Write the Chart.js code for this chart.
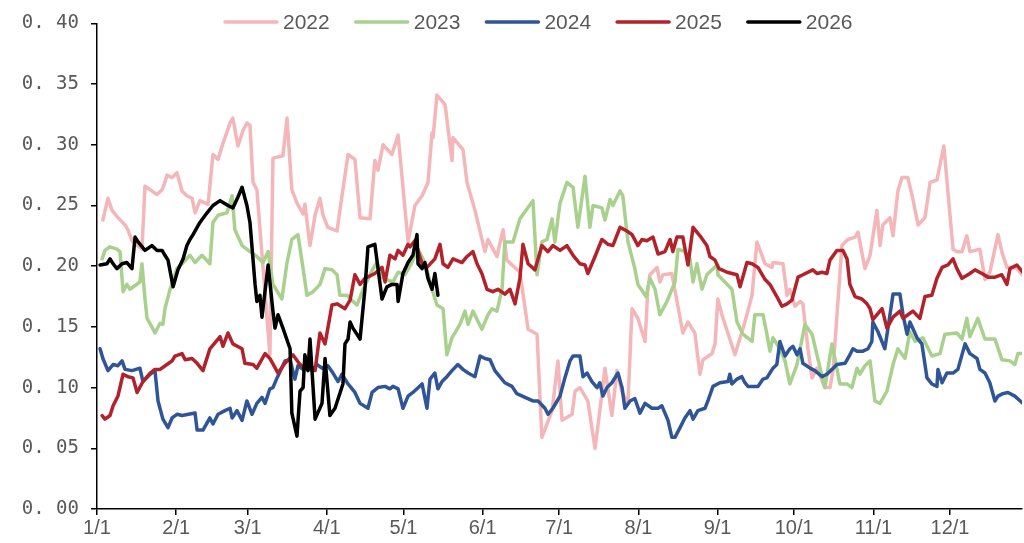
<!DOCTYPE html>
<html>
<head>
<meta charset="utf-8">
<script src="https://cdn.jsdelivr.net/npm/chart.js@4"></script>
<style>
html, body { margin: 0; padding: 0; background: #fff; }
#wrap { width: 1024px; height: 543px; }
</style>
</head>
<body>
<div id="wrap"><canvas id="chart" width="1024" height="543"></canvas></div>
<script>
// month starts (day of year) and their labels
const monthDays = [0, 31, 59, 90, 120, 151, 181, 212, 243, 273, 304, 334];
const monthLabels = ["1/1", "2/1", "3/1", "4/1", "5/1", "6/1", "7/1", "8/1", "9/1", "10/1", "11/1", "12/1"];
const yTicks = [0, 0.05, 0.10, 0.15, 0.20, 0.25, 0.30, 0.35, 0.40];
const seriesNames = ["2022", "2023", "2024", "2025", "2026"];

const days2022 = [2.3,4.3,5.9,8.2,11,12.1,13.7,17.6,18.8,23.5,25.5,26.6,27.4,29.4,31.3,33.3,35.2,37.2,38.4,40.3,43.5,45.4,47.4,49.3,52.1,53.2,55.2,57.2,58.7,59.9,61.1,62.6,67.7,68.9,72.8,74.4,76.3,78.3,80.7,81.4,83.4,85.4,87.3,88.5,90.4,94,95.1,98.3,101,103,106.9,108.8,110,112,115.5,117.9,121.8,124.5,127.3,129.6,131.2,131.6,133.1,136.3,139,139.4,143.3,144.9,148,151.9,153.1,156.6,159,160.5,165.6,168.8,172.3,174.2,178.2,180.5,182.1,186,187.2,189.1,192.2,195,196.9,198.9,201.6,203.6,205.6,207.9,209.5,211.8,214.6,215.7,216.5,219.3,220.4,221.6,225.1,229.4,231.4,234.1,236.1,237.3,240.8,242,243.1,244.7,249.8,253.7,256.5,258.4,261.6,264.3,264.7,268.6,270.2,271.3,273.3,275.3,276.4,278.4,280,281.9,285,287,288.2,291.7,294,296.8,298,300.7,302.7,305.4,306.6,307.7,310.5,311.7,313.6,315.2,317.5,319.5,321.5,324.2,326.2,328.9,331.6,335.2,336.7,338.7,340.6,341.8,345.7,347.7,349.6,352.8,354.3,356.3,358.3,360.2,362.2];
const vals2022 = [.238,.256,.246,.240,.234,.230,.221,.214,.266,.259,.263,.269,.275,.273,.277,.262,.258,.256,.244,.254,.251,.292,.288,.301,.318,.322,.299,.312,.318,.316,.269,.263,.127,.289,.291,.322,.263,.252,.243,.251,.217,.242,.256,.242,.232,.229,.246,.292,.288,.240,.239,.287,.279,.300,.292,.308,.220,.250,.258,.269,.310,.306,.341,.333,.287,.306,.296,.269,.246,.212,.222,.208,.230,.205,.195,.148,.144,.059,.081,.122,.073,.078,.097,.100,.089,.050,.081,.116,.077,.114,.096,.087,.165,.157,.138,.181,.193,.199,.187,.193,.194,.145,.154,.145,.111,.123,.128,.136,.173,.160,.127,.154,.176,.220,.202,.199,.203,.202,.176,.181,.167,.171,.169,.132,.108,.116,.100,.100,.114,.217,.222,.224,.228,.198,.209,.246,.217,.234,.240,.225,.262,.273,.273,.255,.234,.240,.269,.271,.299,.214,.212,.212,.225,.212,.214,.189,.195,.226,.212,.199,.199,.198,.193];

const days2023 = [2,3.1,5.1,7.8,9,10.2,11.7,12.9,16.8,17.6,18.8,19.6,21.5,22.7,24.7,25.8,26.6,28.6,31.3,33.3,36.4,38.4,41.1,44.2,45.4,47.4,50.9,52.9,54,56.8,59.9,62.6,65,67,68.9,72.4,74.4,76.3,78.7,80.7,82.2,84.6,87.3,89.3,92,94,95.1,97.9,100.2,101.8,104.2,108.1,109.6,112,115.9,117.9,120.6,123.3,125.7,128.4,131.2,133.1,135.5,137,139,142.1,144.1,145.3,147.2,150.7,153.1,154.7,156.6,158.6,159.7,162.9,165.6,170.7,172.3,174.2,176.2,178.2,179.3,181.3,184,186.4,188.3,191.1,193,194.2,197.7,198.9,200.9,202,204.8,205.9,207.9,210.6,211.8,215,216.5,218.5,220.4,223.2,226.3,227.5,230.2,232.2,233.4,234.9,236.9,238.8,240.8,242.8,243.1,248.6,249,250.6,252.9,256.5,257.6,260.8,262.3,263.5,264.7,267.4,269.4,271.3,274.1,277.2,280,281.9,285,287.8,290.9,293.7,295.6,297.6,298.7,300.7,302.7,304.6,306.6,309.3,311.7,313.6,316.4,318.3,320.3,323.4,326.9,330.1,332,336.7,338.7,340.6,341.8,344.9,347.7,351.6,354.3,357.5,359.4,360.6,362.5];
const vals2023 = [.206,.213,.216,.214,.212,.179,.185,.181,.187,.202,.173,.157,.150,.145,.153,.152,.165,.181,.198,.202,.209,.203,.209,.202,.236,.242,.244,.258,.230,.217,.212,.208,.203,.212,.185,.173,.203,.222,.226,.198,.176,.179,.185,.198,.197,.193,.176,.176,.171,.168,.181,.198,.203,.190,.187,.195,.193,.203,.214,.203,.181,.168,.165,.127,.141,.152,.163,.152,.163,.148,.160,.165,.163,.181,.220,.220,.239,.254,.193,.220,.222,.239,.220,.252,.269,.265,.232,.274,.232,.250,.248,.238,.255,.250,.262,.258,.220,.198,.185,.175,.190,.181,.160,.171,.187,.214,.212,.206,.187,.202,.181,.193,.197,.201,.193,.181,.176,.154,.144,.138,.160,.160,.144,.130,.141,.132,.122,.103,.119,.152,.144,.127,.100,.136,.103,.103,.100,.116,.111,.118,.122,.089,.087,.097,.119,.132,.124,.146,.138,.141,.126,.128,.144,.145,.140,.157,.142,.157,.140,.140,.123,.122,.119,.128,.128];

const days2024 = [1.2,2.3,4.3,6.3,8.2,9.8,11,13.7,16.8,18,20.8,22.7,23.9,25.8,27.8,29.4,31.3,33.3,38.4,39.2,41.5,44.2,45.4,47.4,50.1,52.1,52.9,54.8,56.8,58.7,60.7,62.6,64.6,65.8,67.7,68.9,70.5,73.6,75.6,77.5,78.7,80.7,82.6,84.6,86.1,88.1,90.4,92.4,94.4,95.9,98.3,101,103,106.1,107.7,110,112.8,114.7,115.9,117.9,119.8,121.8,123.7,127.3,129.2,130.4,132.3,133.5,135.1,137,139,141.3,143.3,145.3,148,150,151.9,153.9,155.8,159.7,162.5,164.4,167.6,170.7,172.7,175.4,176.6,178.5,181.3,183.2,185.2,186.4,189.1,190.3,191.9,193.8,195.8,196.9,198.1,199.7,201.6,204,205.6,206.7,208.7,210.6,212.6,214.6,217.3,219.7,221.2,223.6,225.1,226.3,228.3,230.2,232.2,233.4,235.3,238.1,239.2,241.2,243.9,247.1,247.8,248.6,250.6,252.5,253.7,254.9,258.8,260.8,262.3,264.7,266.2,267.4,269.4,271.3,272.5,274.1,275.3,276.4,279.2,281.1,283.9,285.8,287.8,289.7,292.9,294.8,296,297.6,299.9,301.9,303.4,303.8,305.8,308.5,310.5,311.7,314.4,315.6,317.2,318.3,321.1,323,325,326.9,328.9,329.3,330.9,332.8,335.2,337.1,339.9,341.8,344.6,345.7,347.7,349.6,351.6,352.8,354.7,356.7,359.4,362.6];
const vals2024 = [.132,.124,.114,.119,.118,.122,.115,.114,.116,.105,.111,.114,.089,.074,.067,.075,.078,.077,.079,.065,.065,.075,.070,.078,.081,.083,.075,.081,.073,.089,.078,.087,.092,.087,.099,.100,.108,.122,.123,.107,.118,.115,.118,.115,.119,.116,.118,.112,.105,.111,.103,.096,.087,.083,.096,.100,.101,.099,.101,.099,.083,.093,.096,.103,.083,.107,.112,.099,.105,.109,.114,.119,.115,.112,.109,.126,.124,.123,.114,.104,.101,.095,.092,.089,.089,.083,.078,.083,.093,.108,.122,.126,.126,.109,.112,.105,.100,.104,.093,.100,.104,.112,.100,.083,.089,.091,.079,.087,.083,.083,.085,.073,.059,.059,.067,.075,.081,.074,.081,.083,.089,.101,.104,.105,.111,.103,.107,.109,.104,.101,.101,.107,.108,.116,.119,.138,.126,.132,.134,.127,.132,.120,.116,.114,.109,.111,.115,.119,.120,.127,.132,.130,.130,.132,.138,.154,.146,.132,.160,.177,.177,.160,.144,.154,.141,.136,.108,.103,.101,.115,.104,.112,.112,.115,.136,.128,.124,.115,.112,.104,.089,.093,.095,.096,.093,.087];

const days2025 = [2,3.1,5.1,6.3,8.2,10.2,12.1,14.1,15.7,18,20.8,22.7,24.7,27.4,29.4,30.5,33.3,34.5,37.2,39.2,41.5,44.2,48.2,49.3,51.3,53.2,56.8,57.9,61.1,62.6,65.8,67.7,70.9,73.6,76.7,79.5,82.6,85.4,87.3,89.3,92,94,97.1,99.1,101,103,104.9,108.8,111.6,112.8,114.7,116.7,117.9,119.8,121.8,122.6,124.5,127.3,129.2,132.3,134.3,135.5,137.4,139.4,142.9,144.9,147.2,148.8,150.7,152.7,155,157,159.7,161.7,163.7,165.6,166.8,168.8,171.5,174.2,176.6,178.5,181.3,184,186.4,189.1,191.1,192.2,195,197.7,200.1,202,204.8,207.5,209.5,211.8,213.4,215.3,217.7,219.7,222.4,224.4,225.5,227.1,229.4,231.4,233.4,236.1,238.8,240,242,243.5,244.7,246.7,250.6,251.8,254.5,256.5,258.8,261.6,263.5,266.2,268.2,270.2,272.1,274.5,276.4,280.3,281.9,283.9,285.8,287,289.7,292.1,293.7,294.8,296.8,299.5,301.5,302.7,303.8,307.4,309.3,311.7,314.4,315.6,317.5,319.5,322.2,324.2,326.9,328.9,330.9,333.2,335.2,336.7,338.7,341.8,343.8,346.5,348.9,351.6,354.3,356.3,357.5,360.2,362.5];
const vals2025 = [.077,.074,.077,.085,.093,.111,.109,.108,.096,.105,.112,.115,.115,.119,.122,.126,.128,.123,.124,.120,.114,.132,.142,.134,.145,.136,.132,.120,.119,.116,.128,.124,.112,.120,.127,.119,.115,.114,.145,.136,.168,.169,.165,.172,.193,.185,.190,.194,.199,.187,.209,.206,.213,.209,.218,.216,.221,.202,.199,.206,.218,.202,.199,.206,.203,.208,.212,.202,.194,.181,.179,.181,.177,.181,.169,.190,.218,.202,.197,.217,.212,.217,.213,.217,.209,.202,.201,.194,.208,.222,.218,.217,.232,.229,.226,.217,.222,.221,.224,.210,.212,.222,.212,.224,.224,.201,.232,.225,.217,.208,.205,.198,.197,.195,.193,.183,.203,.202,.199,.189,.185,.175,.167,.169,.172,.191,.193,.197,.194,.195,.194,.205,.213,.213,.206,.185,.175,.173,.169,.165,.156,.165,.149,.158,.163,.157,.160,.163,.157,.175,.176,.190,.199,.201,.206,.198,.190,.194,.197,.194,.191,.191,.193,.185,.198,.201,.195];

const days2026 = [1.2,3.9,5.1,6.3,7.8,9.8,11.7,13.7,14.9,16.1,18.8,21.5,23.5,25.5,26.6,27.8,29.8,31.7,33.7,35.2,36.4,37.6,39.2,40.3,43.1,45.4,48.2,51.3,53.2,55.2,56.8,58.7,59.9,61.9,62.6,63.8,64.6,67,68.9,69.7,70.9,72.8,75.6,76.3,78.3,79.5,80.7,81.4,82.6,83.4,85.4,88.1,89.3,91.2,93.2,96.3,97.1,98.3,99.1,100.2,103,104.9,106.1,108.8,111.6,113.5,115.5,117.5,117.9,119.8,121.8,123.7,125.3,125.7,127.3,128.4,129.6,131.2,132.3,133.5];
const vals2026 = [.201,.202,.206,.202,.198,.202,.203,.198,.224,.220,.213,.217,.213,.213,.209,.205,.183,.197,.206,.217,.222,.226,.232,.236,.244,.250,.254,.250,.248,.257,.265,.250,.236,.185,.171,.176,.158,.201,.163,.149,.160,.149,.132,.079,.060,.097,.100,.127,.114,.140,.074,.087,.124,.077,.083,.103,.136,.140,.154,.149,.140,.181,.216,.218,.173,.183,.185,.185,.171,.194,.203,.209,.226,.202,.198,.203,.190,.181,.194,.176];

const seriesColors = ["#F4B6B8", "#A9D18E", "#2F5597", "#B2222A", "#000000"];
const allDays = [days2022, days2023, days2024, days2025, days2026];
const allVals = [vals2022, vals2023, vals2024, vals2025, vals2026];

const datasets = seriesNames.map((name, i) => ({
    label: name,
    data: allDays[i].map((d, k) => ({ x: d, y: allVals[i][k] })),
    borderColor: seriesColors[i],
    borderWidth: 3.5,
    pointRadius: 0,
    fill: false,
    tension: 0,
    borderJoinStyle: "round",
    borderCapStyle: "round",
    order: seriesNames.length - i
}));

// legend drawn over the top of the plot, like the original
const topLegend = {
    id: "topLegend",
    afterDraw(chart) {
        const ctx = chart.ctx;
        ctx.save();
        ctx.font = '21px "Liberation Sans"';
        ctx.textBaseline = "middle";
        ctx.lineCap = "round";
        chart.data.datasets.forEach((ds, i) => {
            const x0 = 225 + i * 130.7;
            ctx.strokeStyle = ds.borderColor;
            ctx.lineWidth = 3.5;
            ctx.beginPath();
            ctx.moveTo(x0, 22);
            ctx.lineTo(x0 + 52, 22);
            ctx.stroke();
            ctx.fillStyle = "#595959";
            ctx.fillText(ds.label, x0 + 58, 23);
        });
        ctx.restore();
    }
};

new Chart(document.getElementById("chart"), {
    type: "line",
    data: { datasets },
    plugins: [topLegend],
    options: {
        responsive: false,
        animation: false,
        layout: { padding: { top: 14, right: 2, left: 0, bottom: 0 } },
        plugins: { legend: { display: false }, tooltip: { enabled: false } },
        scales: {
            x: {
                type: "linear",
                min: 0,
                max: 362.2,
                afterBuildTicks: axis => { axis.ticks = monthDays.map(v => ({ value: v })); },
                afterFit: s => { s.height = 34; },
                ticks: {
                    autoSkip: false,
                    maxRotation: 0,
                    padding: 1,
                    color: "#595959",
                    font: { family: '"Liberation Sans Narrow", "Liberation Sans"', size: 20 },
                    callback: v => monthLabels[monthDays.indexOf(v)]
                },
                grid: { drawOnChartArea: false, drawTicks: true, tickLength: 6, color: "#000", lineWidth: 1.5 },
                border: { color: "#000", width: 1.5 }
            },
            y: {
                min: 0,
                max: 0.4,
                afterBuildTicks: axis => { axis.ticks = yTicks.map(v => ({ value: v })); },
                afterFit: s => { s.width = 97; },
                ticks: {
                    padding: 12,
                    color: "#595959",
                    font: { family: '"DejaVu Sans Mono"', size: 19 },
                    callback: v => v.toFixed(2).replace(".", ". ")
                },
                grid: { drawOnChartArea: false, drawTicks: true, tickLength: 6, color: "#000", lineWidth: 1.5 },
                border: { color: "#000", width: 1.5 }
            }
        }
    }
});
</script>
</body>
</html>
